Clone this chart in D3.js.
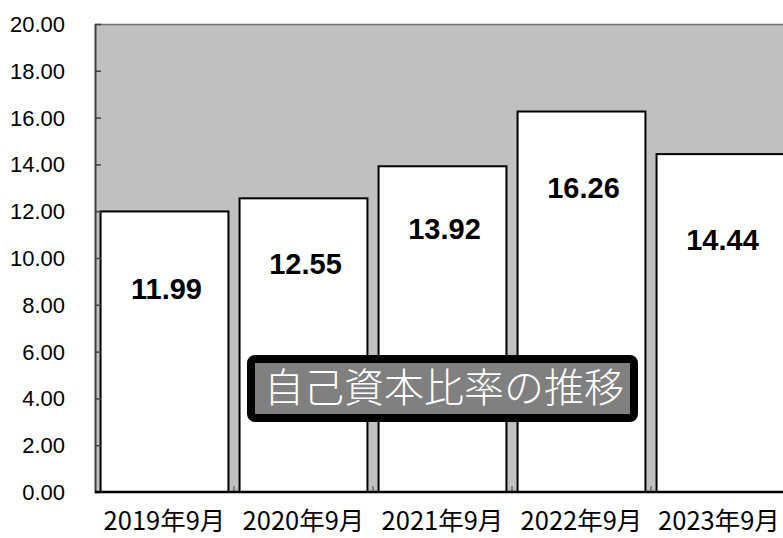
<!DOCTYPE html>
<html>
<head>
<meta charset="utf-8">
<script src="https://cdn.jsdelivr.net/npm/d3@7"></script>
<style>
  body { margin: 0; background: #fff; }
  svg { display: block; }
</style>
</head>
<body>
<svg width="783" height="538"></svg>
<script>
// data
const categories = ['2019年9月', '2020年9月', '2021年9月', '2022年9月', '2023年9月'];
const ratios = [11.99, 12.55, 13.92, 16.26, 14.44];
const yTicks = [0, 2, 4, 6, 8, 10, 12, 14, 16, 18, 20];
const title = '自己資本比率の推移';

// label drop below bar top (px), as placed in the original
const labelDrop = [78, 66, 63, 76, 86];

let plotL = 95, plotT = 24, plotB = 492, plotR = 790;

let svg = d3.select('svg');

let x = d3.scaleBand()
    .domain(categories)
    .range([plotL, plotR])
    .paddingInner(0.08)
    .paddingOuter(0.04);

let y = d3.scaleLinear()
    .domain([0, 20])
    .range([plotB, plotT]);

// plot background
svg.append('rect')
    .attr('x', plotL).attr('y', plotT)
    .attr('width', plotR - plotL).attr('height', plotB - plotT)
    .attr('fill', '#c0c0c0');

// top border
svg.append('line')
    .attr('x1', plotL).attr('x2', plotR)
    .attr('y1', plotT + 0.5).attr('y2', plotT + 0.5)
    .attr('stroke', '#707070').attr('stroke-width', 1.5);

// bars
svg.selectAll('rect.bar')
    .data(ratios)
    .enter()
    .append('rect')
    .classed('bar', true)
    .attr('x', (d, i) => x(categories[i]))
    .attr('y', d => y(d))
    .attr('width', x.bandwidth())
    .attr('height', d => plotB - y(d))
    .attr('fill', '#fff')
    .attr('stroke', '#000')
    .attr('stroke-width', 2);

// value labels
svg.selectAll('text.val')
    .data(ratios)
    .enter()
    .append('text')
    .classed('val', true)
    .attr('x', (d, i) => x(categories[i]) + x.bandwidth() / 2 + 2)
    .attr('y', (d, i) => y(d) + labelDrop[i] + 10)
    .attr('text-anchor', 'middle')
    .attr('font-family', 'Liberation Sans, Arial, sans-serif')
    .attr('font-weight', 'bold')
    .attr('font-size', 29)
    .attr('fill', '#000')
    .text(d => d.toFixed(2));

// y axis
let yAxis = d3.axisRight(y)
    .tickValues(yTicks)
    .tickSize(6)
    .tickFormat('');
let ya = svg.append('g')
    .attr('transform', `translate(${plotL},0)`)
    .call(yAxis);
ya.select('.domain').remove();
ya.selectAll('line').attr('stroke', '#404040').attr('stroke-width', 1.5);
svg.append('line')
    .attr('x1', plotL + 0.5).attr('x2', plotL + 0.5)
    .attr('y1', plotT).attr('y2', plotB + 1)
    .attr('stroke', '#404040').attr('stroke-width', 2);

svg.selectAll('text.ytick')
    .data(yTicks)
    .enter()
    .append('text')
    .classed('ytick', true)
    .attr('x', 65)
    .attr('y', d => y(d) + 8)
    .attr('text-anchor', 'end')
    .attr('font-family', 'Liberation Sans, Arial, sans-serif')
    .attr('font-size', 22)
    .attr('fill', '#000')
    .text(d => d.toFixed(2));

// x axis
let step = x.step();
let bounds = d3.range(1, categories.length).map(i => plotL + step * i);
svg.selectAll('line.xtick')
    .data(bounds)
    .enter()
    .append('line')
    .classed('xtick', true)
    .attr('x1', d => d).attr('x2', d => d)
    .attr('y1', plotB - 6).attr('y2', plotB)
    .attr('stroke', '#404040').attr('stroke-width', 1);
svg.append('line')
    .attr('x1', plotL).attr('x2', plotR)
    .attr('y1', plotB).attr('y2', plotB)
    .attr('stroke', '#000').attr('stroke-width', 2.5);

svg.selectAll('text.xlab')
    .data(categories)
    .enter()
    .append('text')
    .classed('xlab', true)
    .attr('x', d => Math.min(x(d) + x.bandwidth() / 2, 719))
    .attr('y', 530)
    .attr('text-anchor', 'middle')
    .attr('font-family', 'Noto Sans CJK JP, sans-serif')
    .attr('font-size', 25.5)
    .attr('fill', '#000')
    .text(d => d);

// title box
let tg = svg.append('g');
tg.append('rect')
    .attr('x', 251).attr('y', 359)
    .attr('width', 383).attr('height', 59)
    .attr('rx', 4)
    .attr('fill', '#808080')
    .attr('stroke', '#000')
    .attr('stroke-width', 8);
tg.append('text')
    .attr('x', 444).attr('y', 402)
    .attr('text-anchor', 'middle')
    .attr('font-family', 'Noto Sans CJK JP, sans-serif')
    .attr('font-size', 40)
    .attr('font-weight', 300)
    .attr('fill', '#fff')
    .text(title);
</script>
</body>
</html>
